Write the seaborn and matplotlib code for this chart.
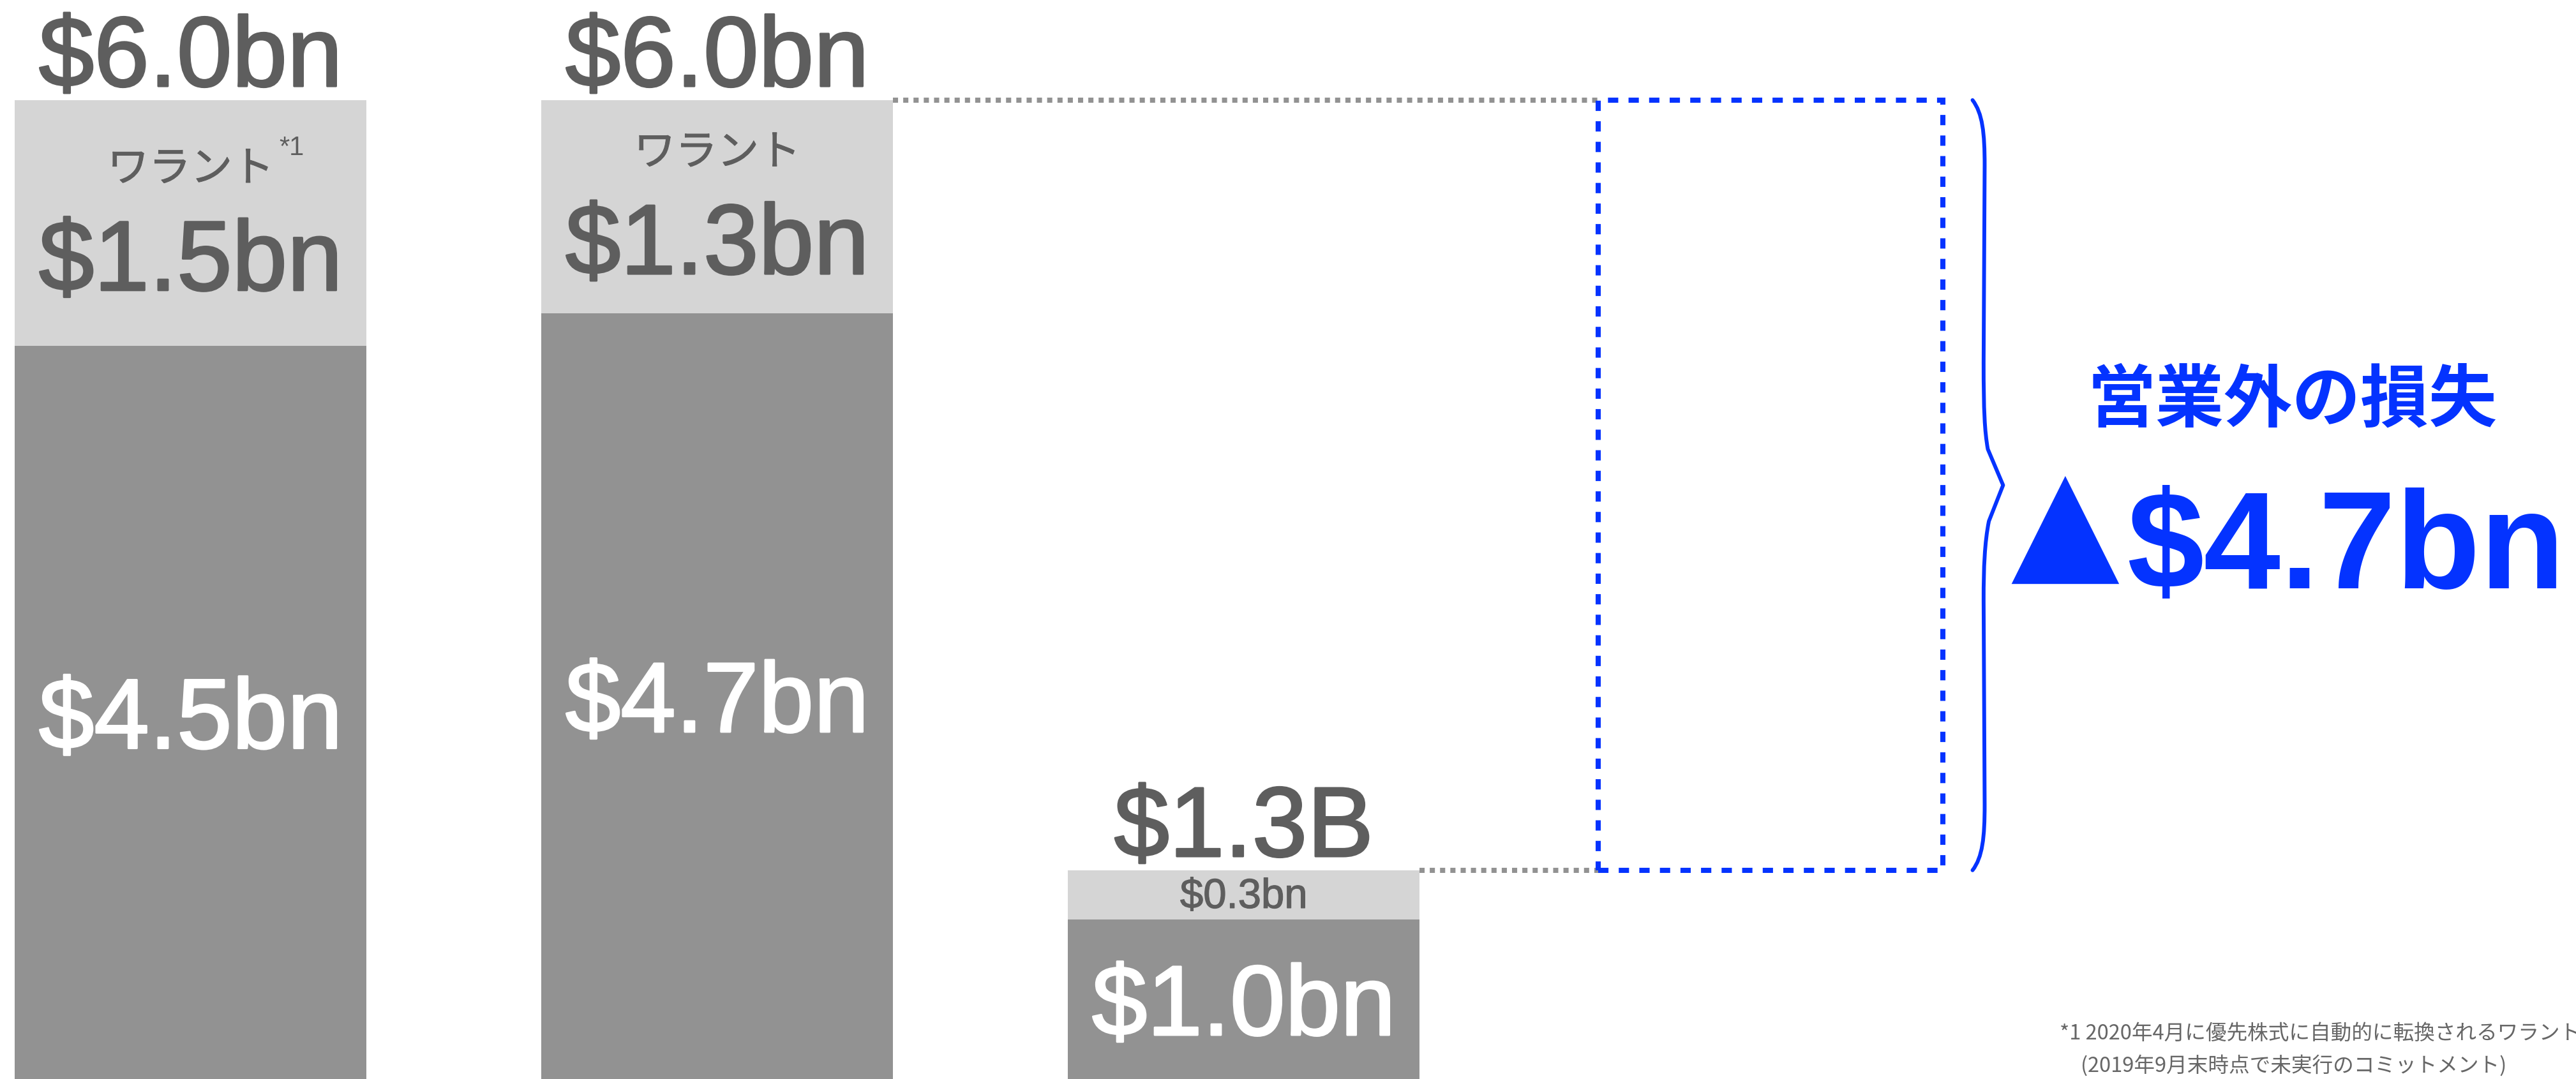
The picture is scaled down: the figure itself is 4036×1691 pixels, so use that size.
import matplotlib
matplotlib.use("Agg")
import matplotlib.pyplot as plt
import matplotlib.patheffects as pe
from matplotlib.path import Path
from matplotlib.patches import PathPatch
import pandas as pd
import seaborn as sns

# ---- data ----
stages = ["stage_1", "stage_2", "stage_3"]
base_values = [4.5, 4.7, 1.0]
warrant_values = [1.5, 1.3, 0.3]
total_labels = ["$6.0bn", "$6.0bn", "$1.3B"]
base_labels = ["$4.5bn", "$4.7bn", "$1.0bn"]
warrant_labels = ["$1.5bn", "$1.3bn", "$0.3bn"]
warrant_names = ["ワラント", "ワラント", ""]
warrant_notes = ["*1", "", ""]
loss_title = "営業外の損失"
loss_marker = "▲"
footnote_lines = [
    "*1 2020年4月に優先株式に自動的に転換されるワラント",
    "(2019年9月末時点で未実行のコミットメント)",
]

# ---- style ----
sns.set_theme(style="white")
plt.rcParams["font.family"] = ["Liberation Sans", "Noto Sans CJK JP", "DejaVu Sans"]
CJK = ["Noto Sans CJK JP", "DejaVu Sans"]

LIGHT = "#D5D5D5"
DARK = "#929292"
INK = "#5E5E5E"
NOTE = "#666666"
BLUE = "#0433FF"
BAR_W = 0.668
BOX_W = 0.655


def heavier(color, width=2.2):
    """Slightly heavier strokes for the regular-weight figures."""
    return [pe.withStroke(linewidth=width, foreground=color)]


df = pd.DataFrame({"stage": stages, "base": base_values, "warrant": warrant_values})
df["total"] = df["base"] + df["warrant"]
loss = df["total"].iloc[1] - df["total"].iloc[2]
loss_label = f"${loss:.1f}bn"

fig = plt.figure(figsize=(40.36, 16.91), dpi=100)
ax = fig.add_axes([0, 0, 1, 1])

# stacked bars: full height in light grey, base part in dark grey on top
sns.barplot(data=df, x="stage", y="total", color=LIGHT, saturation=1,
            width=BAR_W, linewidth=0, errorbar=None, ax=ax)
sns.barplot(data=df, x="stage", y="base", color=DARK, saturation=1,
            width=BAR_W, linewidth=0, errorbar=None, ax=ax)

# the gap between the second and third totals, as an empty dashed bar
loss_x = len(stages)
ax.bar(loss_x, loss, bottom=df["total"].iloc[2], width=BOX_W, fill=False,
       edgecolor=BLUE, linewidth=5.8, linestyle=(0, (2, 2)), zorder=3)

# dotted connectors from the bar tops to the dashed bar
ax.hlines(df["total"].iloc[1], 1 + BAR_W / 2, loss_x - BOX_W / 2,
          colors=DARK, linewidth=5.8, linestyles=(0, (1, 1)))
ax.hlines(df["total"].iloc[2], 2 + BAR_W / 2, loss_x - BOX_W / 2,
          colors=DARK, linewidth=5.8, linestyles=(0, (1, 1)))

# bar labels
for i, row in df.iterrows():
    ax.text(i, row["total"] + 0.085, total_labels[i], ha="center", va="baseline",
            fontsize=112, color=INK, path_effects=heavier(INK))
    ax.text(i, row["base"] / 2 - 0.205, base_labels[i], ha="center", va="baseline",
            fontsize=112, color="white", path_effects=heavier("white"))
    mid = row["base"] + row["warrant"] / 2
    if warrant_names[i]:
        ax.text(i, mid - 0.41, warrant_labels[i], ha="center", va="baseline",
                fontsize=112, color=INK, path_effects=heavier(INK))
        ax.text(i, mid + 0.255, warrant_names[i], ha="center", va="baseline",
                fontsize=47, color=INK, family=CJK, path_effects=heavier(INK, 0.8))
        if warrant_notes[i]:
            ax.text(i + 0.168, row["total"] - 0.215, warrant_notes[i], ha="left",
                    va="top", fontsize=30, color=INK)
    else:
        ax.text(i, mid - 0.08, warrant_labels[i], ha="center", va="baseline",
                fontsize=47, color=INK, path_effects=heavier(INK, 0.9))

# curly brace beside the dashed bar
top = df["total"].iloc[1]
bot = df["total"].iloc[2]
cen = (top + bot) / 2
x0, xs, xt = 3.384, 3.405, 3.442
verts = [
    (x0, top),
    (xs - 0.002, top - 0.08), (xs + 0.002, top - 0.2), (xs + 0.002, top - 0.4),
    (xs, cen + 0.75),
    (xs, cen + 0.45), (xs + 0.002, cen + 0.33), (xs + 0.008, cen + 0.22),
    (xt, cen),
    (xs + 0.01, cen - 0.22),
    (xs + 0.002, cen - 0.35), (xs, cen - 0.5), (xs, cen - 0.7),
    (xs + 0.002, bot + 0.4),
    (xs + 0.002, bot + 0.2), (xs - 0.002, bot + 0.08), (x0, bot),
]
codes = [Path.MOVETO,
         Path.CURVE4, Path.CURVE4, Path.CURVE4,
         Path.LINETO,
         Path.CURVE4, Path.CURVE4, Path.CURVE4,
         Path.LINETO,
         Path.LINETO,
         Path.CURVE4, Path.CURVE4, Path.CURVE4,
         Path.LINETO,
         Path.CURVE4, Path.CURVE4, Path.CURVE4]
ax.add_patch(PathPatch(Path(verts, codes), fill=False, edgecolor=BLUE,
                       linewidth=4.3, capstyle="round", joinstyle="round"))

# loss annotation
ax.text(3.991, 4.166, loss_title, ha="center", va="center", fontsize=77,
        fontweight="bold", color=BLUE, family=CJK)
ax.text(3.559, 3.153, loss_marker, ha="center", va="baseline", fontsize=159,
        color=BLUE, family=["DejaVu Sans"])
ax.text(3.677, 3.021, loss_label, ha="left", va="baseline", fontsize=156,
        fontweight="bold", color=BLUE)

# footnote
fig.text(0.7996, 0.042, footnote_lines[0], ha="left", va="center", fontsize=23.5,
         color=NOTE, family=CJK)
fig.text(0.8077, 0.0124, footnote_lines[1], ha="left", va="center", fontsize=23.5,
         color=NOTE, family=CJK)

ax.set_xlim(-0.362, 4.530)
ax.set_ylim(0.026, 6.611)
ax.axis("off")

fig.savefig("out.png", dpi=100)
